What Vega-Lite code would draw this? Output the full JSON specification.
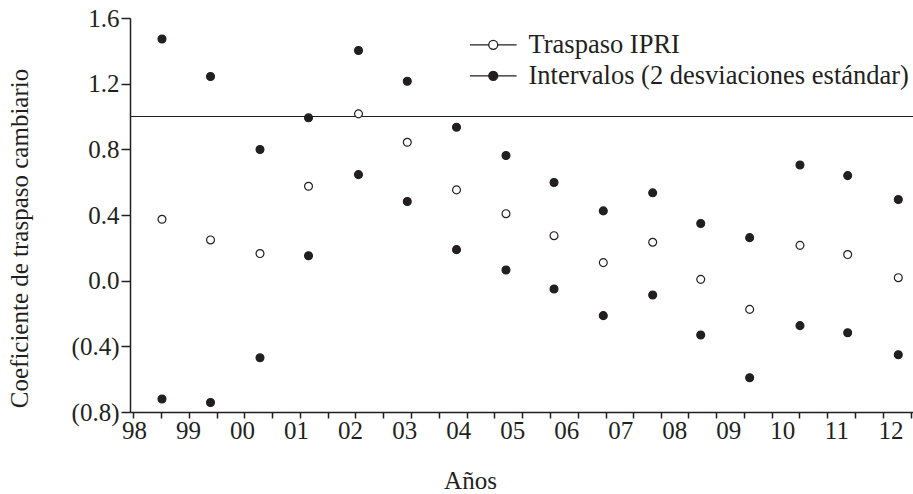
{
  "$schema": "https://vega.github.io/schema/vega-lite/v6.json",
  "width": 783,
  "height": 394,
  "autosize": "none",
  "padding": {"left": 130, "top": 18, "right": 0, "bottom": 82},
  "background": "white",
  "config": {
    "view": {"stroke": null},
    "font": "Liberation Serif",
    "axis": {"labelFont": "Liberation Serif", "titleFont": "Liberation Serif", "labelColor": "#231f20", "titleColor": "#231f20", "titleFontWeight": "normal", "domainColor": "#231f20", "tickColor": "#231f20", "grid": false},
    "legend": {"labelFont": "Liberation Serif", "labelColor": "#231f20"}
  },
  "data": {
    "values": [
      {"fecha": 1998.518, "serie": "Traspaso IPRI", "valor": 0.374},
      {"fecha": 1999.416, "serie": "Traspaso IPRI", "valor": 0.248},
      {"fecha": 2000.332, "serie": "Traspaso IPRI", "valor": 0.165},
      {"fecha": 2001.230, "serie": "Traspaso IPRI", "valor": 0.575},
      {"fecha": 2002.155, "serie": "Traspaso IPRI", "valor": 1.016},
      {"fecha": 2003.058, "serie": "Traspaso IPRI", "valor": 0.843},
      {"fecha": 2003.969, "serie": "Traspaso IPRI", "valor": 0.553},
      {"fecha": 2004.885, "serie": "Traspaso IPRI", "valor": 0.408},
      {"fecha": 2005.774, "serie": "Traspaso IPRI", "valor": 0.274},
      {"fecha": 2006.686, "serie": "Traspaso IPRI", "valor": 0.110},
      {"fecha": 2007.600, "serie": "Traspaso IPRI", "valor": 0.234},
      {"fecha": 2008.489, "serie": "Traspaso IPRI", "valor": 0.008},
      {"fecha": 2009.395, "serie": "Traspaso IPRI", "valor": -0.175},
      {"fecha": 2010.326, "serie": "Traspaso IPRI", "valor": 0.215},
      {"fecha": 2011.209, "serie": "Traspaso IPRI", "valor": 0.159},
      {"fecha": 2012.146, "serie": "Traspaso IPRI", "valor": 0.018},
      {"fecha": 1998.518, "serie": "Intervalos (2 desviaciones estándar)", "valor": 1.472},
      {"fecha": 1999.416, "serie": "Intervalos (2 desviaciones estándar)", "valor": 1.244},
      {"fecha": 2000.332, "serie": "Intervalos (2 desviaciones estándar)", "valor": 0.799},
      {"fecha": 2001.230, "serie": "Intervalos (2 desviaciones estándar)", "valor": 0.992},
      {"fecha": 2002.155, "serie": "Intervalos (2 desviaciones estándar)", "valor": 1.402},
      {"fecha": 2003.058, "serie": "Intervalos (2 desviaciones estándar)", "valor": 1.215},
      {"fecha": 2003.969, "serie": "Intervalos (2 desviaciones estándar)", "valor": 0.935},
      {"fecha": 2004.885, "serie": "Intervalos (2 desviaciones estándar)", "valor": 0.762},
      {"fecha": 2005.774, "serie": "Intervalos (2 desviaciones estándar)", "valor": 0.598},
      {"fecha": 2006.686, "serie": "Intervalos (2 desviaciones estándar)", "valor": 0.425},
      {"fecha": 2007.600, "serie": "Intervalos (2 desviaciones estándar)", "valor": 0.535},
      {"fecha": 2008.489, "serie": "Intervalos (2 desviaciones estándar)", "valor": 0.348},
      {"fecha": 2009.395, "serie": "Intervalos (2 desviaciones estándar)", "valor": 0.262},
      {"fecha": 2010.326, "serie": "Intervalos (2 desviaciones estándar)", "valor": 0.705},
      {"fecha": 2011.209, "serie": "Intervalos (2 desviaciones estándar)", "valor": 0.640},
      {"fecha": 2012.146, "serie": "Intervalos (2 desviaciones estándar)", "valor": 0.494},
      {"fecha": 1998.518, "serie": "Intervalos (2 desviaciones estándar)", "valor": -0.721},
      {"fecha": 1999.416, "serie": "Intervalos (2 desviaciones estándar)", "valor": -0.742},
      {"fecha": 2000.332, "serie": "Intervalos (2 desviaciones estándar)", "valor": -0.470},
      {"fecha": 2001.230, "serie": "Intervalos (2 desviaciones estándar)", "valor": 0.152},
      {"fecha": 2002.155, "serie": "Intervalos (2 desviaciones estándar)", "valor": 0.646},
      {"fecha": 2003.058, "serie": "Intervalos (2 desviaciones estándar)", "valor": 0.482},
      {"fecha": 2003.969, "serie": "Intervalos (2 desviaciones estándar)", "valor": 0.189},
      {"fecha": 2004.885, "serie": "Intervalos (2 desviaciones estándar)", "valor": 0.065},
      {"fecha": 2005.774, "serie": "Intervalos (2 desviaciones estándar)", "valor": -0.051},
      {"fecha": 2006.686, "serie": "Intervalos (2 desviaciones estándar)", "valor": -0.213},
      {"fecha": 2007.600, "serie": "Intervalos (2 desviaciones estándar)", "valor": -0.087},
      {"fecha": 2008.489, "serie": "Intervalos (2 desviaciones estándar)", "valor": -0.331},
      {"fecha": 2009.395, "serie": "Intervalos (2 desviaciones estándar)", "valor": -0.591},
      {"fecha": 2010.326, "serie": "Intervalos (2 desviaciones estándar)", "valor": -0.274},
      {"fecha": 2011.209, "serie": "Intervalos (2 desviaciones estándar)", "valor": -0.317},
      {"fecha": 2012.146, "serie": "Intervalos (2 desviaciones estándar)", "valor": -0.451}
    ]
  },
  "layer": [
    {
      "mark": {"type": "rule", "color": "#231f20", "strokeWidth": 1},
      "encoding": {"y": {"datum": 1.0, "type": "quantitative"}}
    },
    {
      "mark": {"type": "point", "shape": "circle", "filled": true, "stroke": "#231f20", "strokeWidth": 1.2, "size": 62, "opacity": 1},
      "encoding": {
        "x": {
          "field": "fecha",
          "type": "quantitative",
          "scale": {"domain": [1997.926, 2012.418], "nice": false, "zero": false},
          "axis": {
            "title": "Años",
            "titleFontSize": 25,
            "titleX": 340,
            "titleY": 76,
            "titleAnchor": null,
            "titleAlign": "center",
            "titleBaseline": "alphabetic",
            "values": [1997.976, 1998.5, 1999.018, 1999.531, 2000.036, 2000.554, 2001.072, 2001.585, 2002.09, 2002.603, 2003.121, 2003.639, 2004.158, 2004.669, 2005.176, 2005.699, 2006.212, 2006.736, 2007.241, 2007.754, 2008.259, 2008.772, 2009.29, 2009.803, 2010.314, 2010.821, 2011.344, 2011.857, 2012.375, 1998, 1999, 2000, 2001, 2002, 2003, 2004, 2005, 2006, 2007, 2008, 2009, 2010, 2011, 2012],
            "labelExpr": "datum.value == round(datum.value) ? substring(toString(datum.value), 2, 4) : ''",
            "tickOpacity": {"condition": {"test": "datum.value == round(datum.value)", "value": 0}, "value": 1},
            "labelFontSize": 25,
            "labelPadding": 0,
            "labelOverlap": false,
            "labelFlush": false,
            "labelBound": false,
            "tickSize": 6,
            "tickWidth": 1.5,
            "domainWidth": 1.5
          }
        },
        "y": {
          "field": "valor",
          "type": "quantitative",
          "scale": {"domain": [-0.8, 1.6], "nice": false, "zero": false},
          "axis": {
            "title": "Coeficiente de traspaso cambiario",
            "titleFontSize": 25,
            "titleX": -111,
            "titleY": 220,
            "titleAngle": -90,
            "titleAlign": "center",
            "titleBaseline": "middle",
            "values": [-0.8, -0.4, 0, 0.4, 0.8, 1.2, 1.6],
            "labelExpr": "datum.value < 0 ? '(' + format(-datum.value, '.1f') + ')' : format(datum.value, '.1f')",
            "labelFontSize": 25,
            "labelPadding": 2,
            "labelOverlap": false,
            "labelFlush": false,
            "tickSize": 9,
            "tickWidth": 1.5,
            "domainWidth": 1.5
          }
        },
        "fill": {
          "field": "serie",
          "type": "nominal",
          "scale": {"domain": ["Traspaso IPRI", "Intervalos (2 desviaciones estándar)"], "range": ["white", "#231f20"]},
          "legend": {
            "title": null,
            "orient": "none",
            "legendX": 350,
            "legendY": 13.6,
            "padding": 0,
            "symbolType": "M-2.335,0L-0.45,0M0.45,0L2.335,0M0.45,0A0.45,0.45 0 1 1 -0.45,0A0.45,0.45 0 1 1 0.45,0Z",
            "symbolSize": 400,
            "symbolStrokeColor": "#231f20",
            "symbolStrokeWidth": 1.3,
            "symbolOpacity": 1,
            "labelFontSize": 26.5,
            "labelOffset": 22,
            "rowPadding": 4,
            "labelLimit": 500
          }
        }
      }
    }
  ]
}
